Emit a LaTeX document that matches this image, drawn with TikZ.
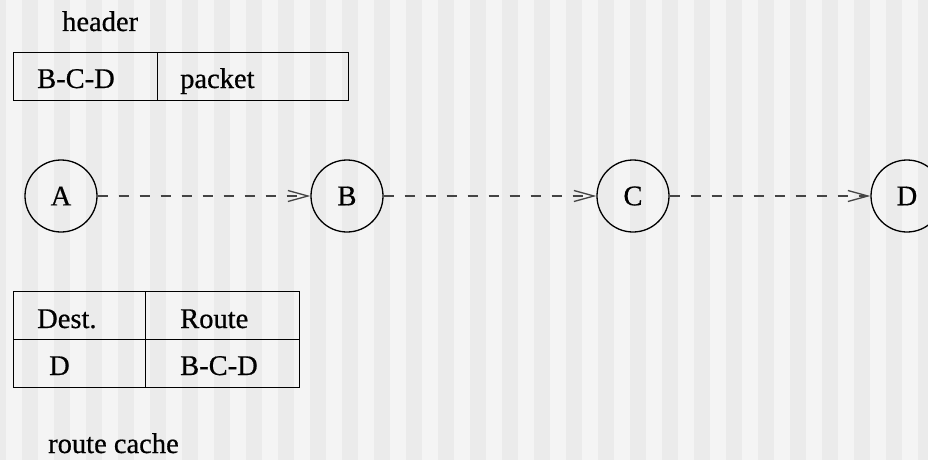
\documentclass[tikz,border=0pt]{standalone}
\usepackage{fontspec}
\setmainfont{Liberation Serif}[FakeBold=0.6]
\usetikzlibrary{arrows.meta}
\definecolor{stripelight}{HTML}{F4F4F4}
\definecolor{stripedark}{HTML}{EBEBEB}
\definecolor{linkgray}{HTML}{444444}

\begin{document}
\begin{tikzpicture}[x=1pt,y=-1pt,
  every node/.style={font=\fontsize{28.5}{34}\selectfont,inner sep=0pt},
  host/.style={draw,circle,line width=1.3pt,minimum size=72pt},
  cell/.style={draw,line width=1.3pt,minimum height=48pt,anchor=north west},
  txt/.style={anchor=base west},
  link/.style={linkgray,line width=1.3pt,dash pattern=on 10pt off 11pt,
    -{Straight Barb[length=20pt,width=11pt]}}]
  \clip (0,0) rectangle (928,460);
  \fill[stripelight] (0,0) rectangle (928,460);
  \foreach \x in {-10,22,...,918}
    \fill[stripedark] (\x,0) rectangle ++(16,460);

  % packet with its header
  \node[txt] (hdr) at (62,31) {header};
  \node[cell,minimum width=144pt] (hdrcell) at (13,52) {};
  \node[cell,minimum width=191pt] (pktcell) at (157,52) {};
  \node[txt] (hdrroute) at (37,88) {B-C-D};
  \node[txt] (pkt) at (180,88) {packet};

  % hosts
  \node[host] (A) at (61,196) {A};
  \node[host] (B) at (347,196) {B};
  \node[host] (C) at (633,196) {C};
  \node[host] (D) at (907,196) {D};

  \path[link]
  (A) edge (B)
  (B) edge (C)
  (C) edge (D);

  % route cache
  \node[cell,minimum width=132pt] (destcell) at (13,291) {};
  \node[cell,minimum width=154pt] (routecell) at (145,291) {};
  \node[cell,minimum width=132pt] (destval) at (13,339) {};
  \node[cell,minimum width=154pt] (routeval) at (145,339) {};
  \node[txt] (desthead) at (37,328) {Dest.};
  \node[txt] (routehead) at (180,328) {Route};
  \node[txt] (dest) at (49,375) {D};
  \node[txt] (route) at (180,375) {B-C-D};
  \node[txt] (cache) at (48,453) {route cache};
\end{tikzpicture}
\end{document}
